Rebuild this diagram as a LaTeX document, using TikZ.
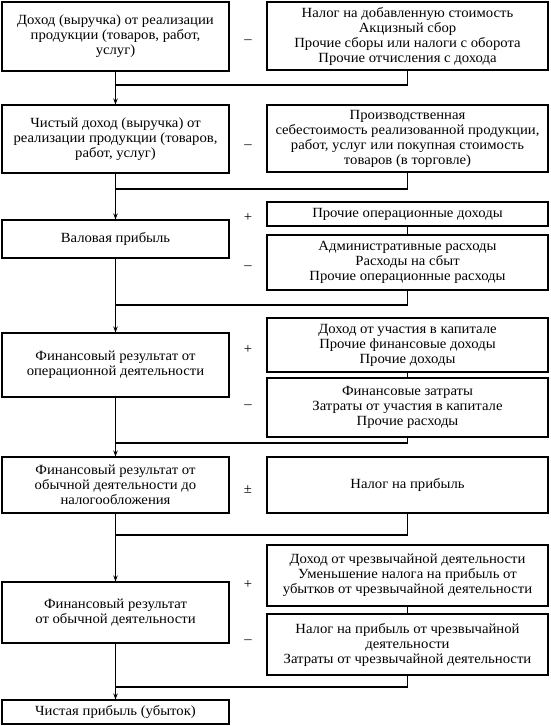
\documentclass[tikz,border=0pt]{standalone}
\usepackage{fontspec}
\setmainfont{Liberation Serif}[FakeStretch=1.05]
\usetikzlibrary{arrows.meta}
\begin{document}
\begin{tikzpicture}[x=1pt,y=-1pt,
  box/.style={draw, line width=1.1pt, rectangle, align=center, inner sep=1pt,
    font=\fontsize{14}{15}\selectfont},
  lbox/.style={box, minimum width=227pt},
  rbox/.style={box, minimum width=281pt},
  sign/.style={inner sep=0pt, font=\fontsize{14}{15}\selectfont},
  conn/.style={line width=1.1pt},
  arr/.style={conn, -{Stealth[length=6pt,width=4.5pt]}}]
\useasboundingbox (0,0) rectangle (550,726);
% left column
\node[lbox, minimum height=69pt] (L1) at (115.5,36.5) {Доход (выручка) от реализации\\продукции (товаров, работ,\\услуг)};
\node[lbox, minimum height=68pt] (L2) at (115.5,139) {Чистый доход (выручка) от\\реализации продукции (товаров,\\работ, услуг)};
\node[lbox, minimum height=38pt] (L3) at (115.5,239) {Валовая прибыль};
\node[lbox, minimum height=64pt] (L4) at (115.5,365) {Финансовый результат от\\операционной деятельности};
\node[lbox, minimum height=56pt] (L5) at (115.5,485) {Финансовый результат от\\обычной деятельности до\\налогообложения};
\node[lbox, minimum height=61pt] (L6) at (115.5,612.5) {Финансовый результат\\от обычной деятельности};
\node[lbox, minimum height=24pt] (L7) at (115.5,712) {Чистая прибыль (убыток)};
% right column
\node[rbox, minimum height=68pt] (R1) at (407.5,36) {Налог на добавленную стоимость\\Акцизный сбор\\Прочие сборы или налоги с оборота\\Прочие отчисления с дохода};
\node[rbox, minimum height=67pt] (R2) at (407.5,138.5) {Производственная\\себестоимость реализованной продукции,\\работ, услуг или покупная стоимость\\товаров (в торговле)};
\node[rbox, minimum height=24pt] (R3a) at (407.5,214) {Прочие операционные доходы};
\node[rbox, minimum height=55pt] (R3b) at (407.5,262.5) {Административные расходы\\Расходы на сбыт\\Прочие операционные расходы};
\node[rbox, minimum height=54pt] (R4a) at (407.5,345) {Доход от участия в капитале\\Прочие финансовые доходы\\Прочие доходы};
\node[rbox, minimum height=59pt] (R4b) at (407.5,407.5) {Финансовые затраты\\Затраты от участия в капитале\\Прочие расходы};
\node[rbox, minimum height=56pt] (R5) at (407.5,485) {Налог на прибыль};
\node[rbox, minimum height=61pt] (R6a) at (407.5,575.5) {Доход от чрезвычайной деятельности\\Уменьшение налога на прибыль от\\убытков от чрезвычайной деятельности};
\node[rbox, minimum height=61pt] (R6b) at (407.5,644.5) {Налог на прибыль от чрезвычайной\\деятельности\\Затраты от чрезвычайной деятельности};
% signs
\node[sign] (s1) at (248,42) {–};
\node[sign] (s2) at (248,147) {–};
\node[sign] (s3) at (248,218) {+};
\node[sign] (s4) at (248,268) {–};
\node[sign] (s5) at (248,350) {+};
\node[sign] (s6) at (248,407) {–};
\node[sign] (s7) at (248,490) {±};
\node[sign] (s8) at (248,585) {+};
\node[sign] (s9) at (248,642) {–};
% junctions
\coordinate (j1) at (115.5,85);
\coordinate (j2) at (115.5,189);
\coordinate (j3) at (115.5,305);
\coordinate (j4) at (115.5,443);
\coordinate (j5) at (115.5,535);
\coordinate (j6) at (115.5,687);
% main flow
\draw[arr] (L1.south) -- (L2.north);
\draw[arr] (L2.south) -- (L3.north);
\draw[arr] (L3.south) -- (L4.north);
\draw[arr] (L4.south) -- (L5.north);
\draw[arr] (L5.south) -- (L6.north);
\draw[arr] (L6.south) -- (L7.north);
% side connectors
\draw[conn] (R1.south) |- (j1);
\draw[conn] (R2.south) |- (j2);
\draw[conn] (R3a.south) -- (R3b.north);
\draw[conn] (R3b.south) |- (j3);
\draw[conn] (R4a.south) -- (R4b.north);
\draw[conn] (R4b.south) |- (j4);
\draw[conn] (R5.south) |- (j5);
\draw[conn] (R6a.south) -- (R6b.north);
\draw[conn] (R6b.south) |- (j6);
\end{tikzpicture}
\end{document}
